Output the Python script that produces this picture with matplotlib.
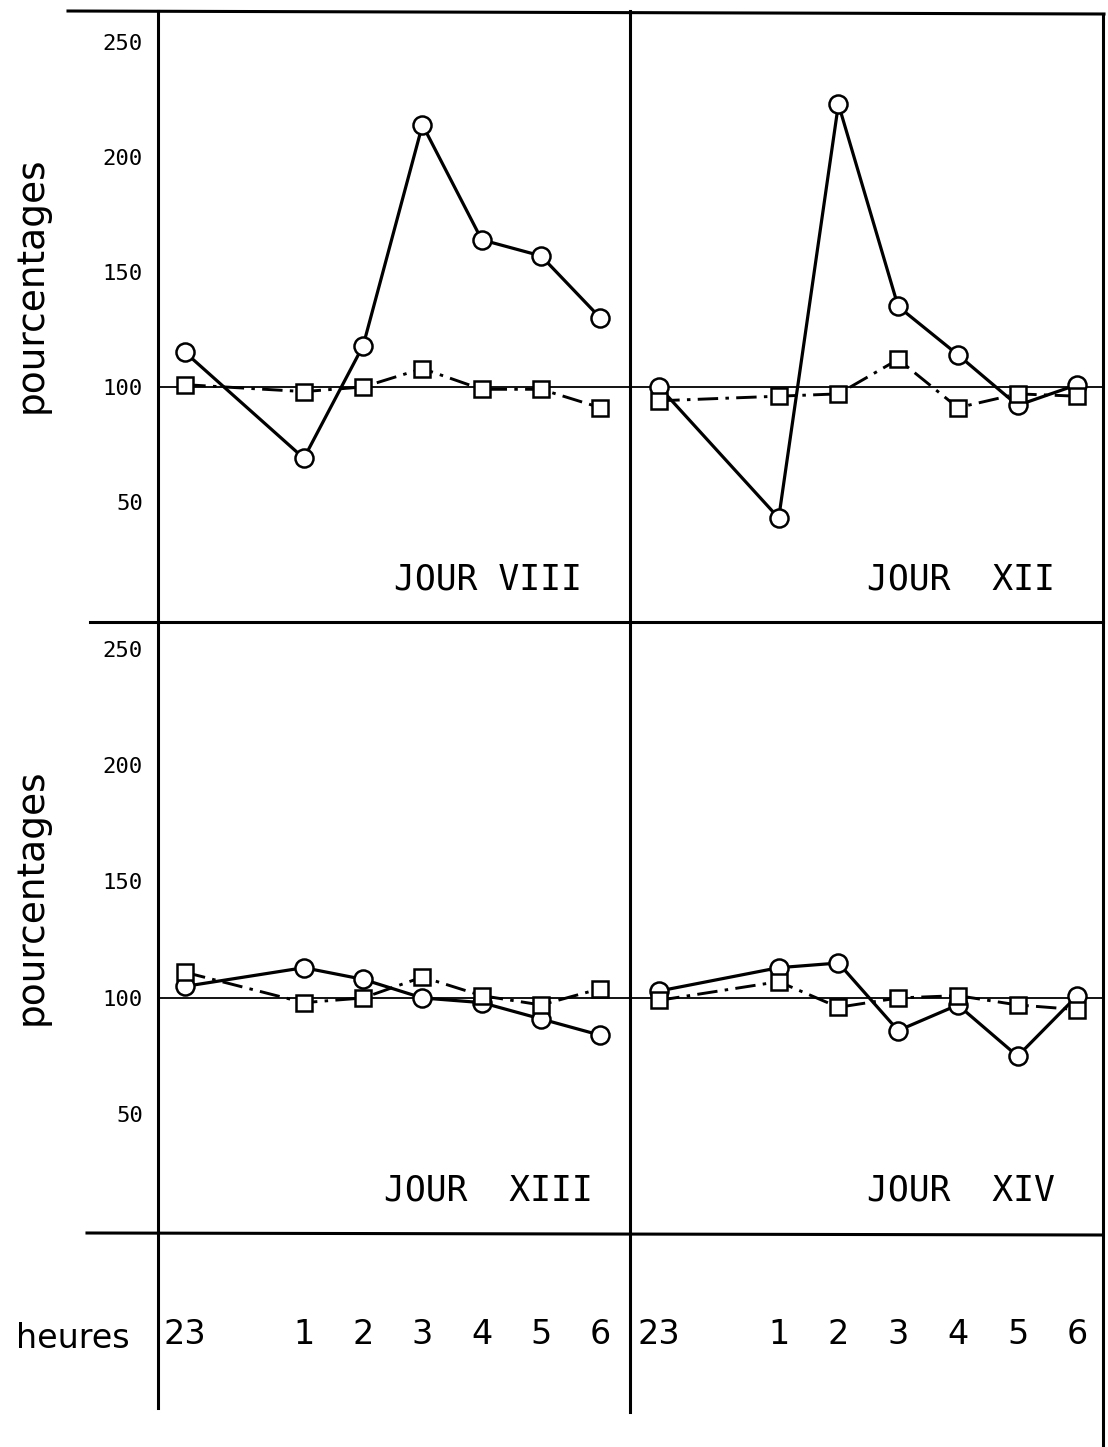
import matplotlib
matplotlib.use("Agg")
import matplotlib.pyplot as plt
from matplotlib.lines import Line2D

# heures de mesure (23 h -> 6 h), pas de mesure a minuit
heures = [23, 1, 2, 3, 4, 5, 6]
labels_heures = [str(h) for h in heures]

# pourcentages, courbe pleine (cercles) et courbe mixte (carres)
jour_viii_cercles = [115, 69, 118, 214, 164, 157, 130]
jour_viii_carres = [101, 98, 100, 108, 99, 99, 91]
jour_xii_cercles = [100, 43, 223, 135, 114, 92, 101]
jour_xii_carres = [94, 96, 97, 112, 91, 97, 96]
jour_xiii_cercles = [105, 113, 108, 100, 98, 91, 84]
jour_xiii_carres = [111, 98, 100, 109, 101, 97, 104]
jour_xiv_cercles = [103, 113, 115, 86, 97, 75, 101]
jour_xiv_carres = [99, 107, 96, 100, 101, 97, 95]

titres = ["JOUR VIII", "JOUR  XII", "JOUR  XIII", "JOUR  XIV"]
yticks = [50, 100, 150, 200, 250]

W, H = 1108, 1447
fig = plt.figure(figsize=(W / 100, H / 100), dpi=100)


def box(x0, y0, x1, y1):
    return [x0 / W, 1 - y1 / H, (x1 - x0) / W, (y1 - y0) / H]


def trait(x0, y0, x1, y1, lw=2.2):
    fig.add_artist(Line2D([x0 / W, x1 / W], [1 - y0 / H, 1 - y1 / H],
                          transform=fig.transFigure, color="black", lw=lw))


pos = [(h - 23) % 24 for h in heures]

panneaux = [
    (box(158, 11, 630, 622), (-0.46, 7.5), (-2.2, 263.5), jour_viii_cercles, jour_viii_carres),
    (box(630, 11, 1103, 622), (-0.49, 7.43), (-2.2, 263.5), jour_xii_cercles, jour_xii_carres),
    (box(158, 622, 630, 1233), (-0.46, 7.5), (-0.9, 261.4), jour_xiii_cercles, jour_xiii_carres),
    (box(630, 622, 1103, 1233), (-0.49, 7.43), (-0.9, 261.4), jour_xiv_cercles, jour_xiv_carres),
]

for i, (rect, xl, yl, cercles, carres) in enumerate(panneaux):
    ax = fig.add_axes(rect)
    ax.set_xlim(*xl)
    ax.set_ylim(*yl)
    for s in ax.spines.values():
        s.set_visible(False)
    ax.axhline(100, color="black", lw=1.3, zorder=1)
    ax.plot(pos, cercles, color="black", lw=2.3, marker="o", ms=13,
            mfc="white", mec="black", mew=1.8, zorder=3)
    ax.plot(pos, carres, color="black", lw=2.1, dashes=(7, 2.5, 1.2, 2.5),
            marker="s", ms=12, mfc="white", mec="black", mew=1.8, zorder=4)
    ax.set_yticks(yticks)
    if i % 2 == 0:
        ax.set_yticklabels([str(v) for v in yticks], family="DejaVu Sans Mono",
                           fontsize=16)
    else:
        ax.set_yticklabels([])
    ax.tick_params(axis="y", length=0, pad=11)
    if i >= 2:
        ax.set_xticks(pos)
        ax.set_xticklabels(labels_heures, fontsize=24)
        ax.tick_params(axis="x", length=0, pad=61)
    else:
        ax.set_xticks([])
    ax.text(0.7, 0.07, titres[i], transform=ax.transAxes, ha="center",
            va="center", family="DejaVu Sans Mono", fontsize=25)

# cadre
trait(68, 11, 1104, 14)
trait(158, 11, 158, 1408)
trait(630, 11, 630, 1412)
trait(1103, 14, 1103, 1447)
trait(90, 622, 1103, 622)
trait(87, 1233, 1103, 1235)

fig.text(32 / W, 1 - 285 / H, "pourcentages", rotation=90, ha="center",
         va="center", fontsize=27)
fig.text(32 / W, 1 - 897 / H, "pourcentages", rotation=90, ha="center",
         va="center", fontsize=27)
fig.text(73 / W, 1 - 1338 / H, "heures", ha="center", va="center", fontsize=24)

fig.savefig("out.png", dpi=100, facecolor="white")
